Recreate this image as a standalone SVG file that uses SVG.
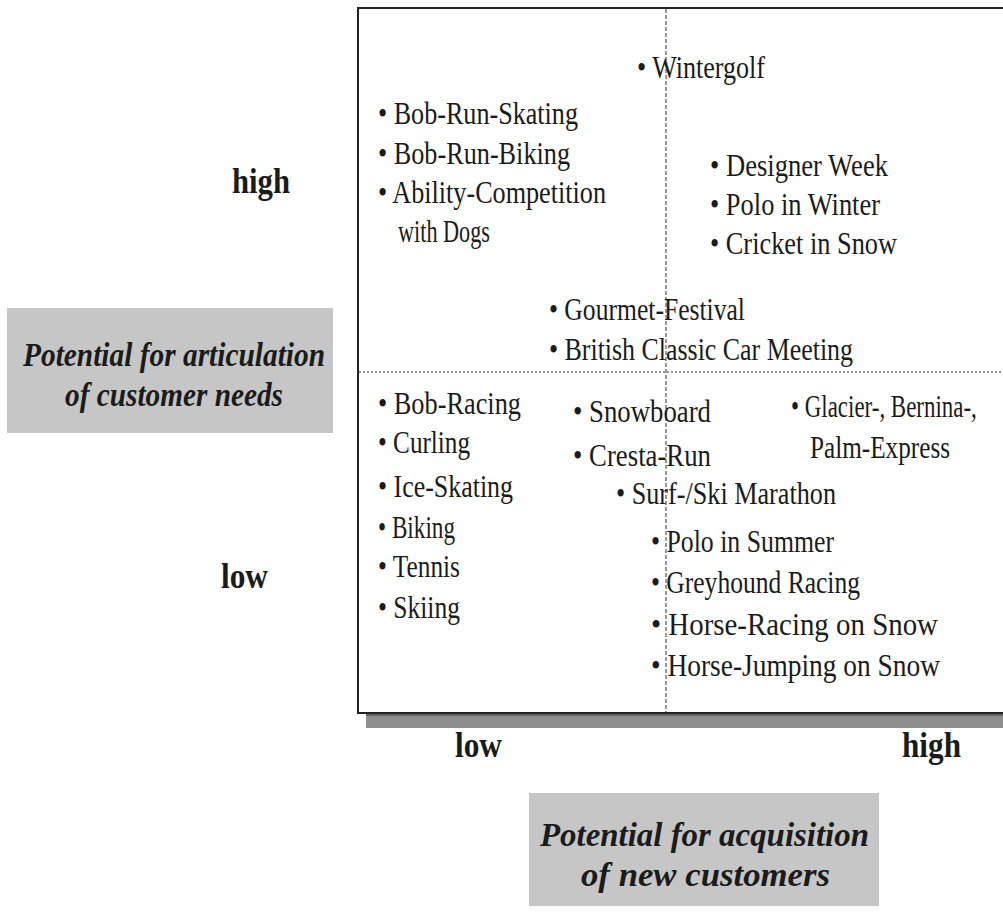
<svg xmlns="http://www.w3.org/2000/svg" width="1003" height="918" viewBox="0 0 1003 918">
<style>
.t{font-family:"Liberation Serif","Times New Roman",serif;font-size:31px;fill:#1b1b1b}
.ax{font-family:"Liberation Serif","Times New Roman",serif;font-size:35px;font-weight:bold;fill:#1b1b1b}
.ti{font-family:"Liberation Serif","Times New Roman",serif;font-size:33px;font-weight:bold;font-style:italic;fill:#1b1b1b}
.gbox{fill:#c6c6c6}
.dash{stroke:#333;stroke-width:1;stroke-dasharray:4 2;fill:none}
</style>
<rect width="1003" height="918" fill="#ffffff"/>
<g id="matrix">
<rect x="366" y="714" width="640" height="14" fill="#8e8e8e"/>
<line x1="366" y1="715" x2="1003" y2="715" stroke="#666" stroke-width="2"/>
<path d="M1003,8 H358 V713 H1003" fill="none" stroke="#222" stroke-width="2"/>
</g>
<g id="connectors">
<line class="dash" x1="666" y1="9" x2="666" y2="712"/>
<line class="dash" x1="359" y1="372" x2="1003" y2="372" style="stroke-dasharray:2 2"/>
</g>
<g id="q-high-high">
<text class="t" x="637" y="78" textLength="128" lengthAdjust="spacingAndGlyphs">• Wintergolf</text>
<text class="t" x="710" y="176" textLength="178" lengthAdjust="spacingAndGlyphs">• Designer Week</text>
<text class="t" x="710" y="215" textLength="170" lengthAdjust="spacingAndGlyphs">• Polo in Winter</text>
<text class="t" x="710" y="254" textLength="187" lengthAdjust="spacingAndGlyphs">• Cricket in Snow</text>
</g>
<g id="q-low-high">
<text class="t" x="378" y="124" textLength="200" lengthAdjust="spacingAndGlyphs">• Bob-Run-Skating</text>
<text class="t" x="378" y="164" textLength="192" lengthAdjust="spacingAndGlyphs">• Bob-Run-Biking</text>
<text class="t" x="378" y="203" textLength="228" lengthAdjust="spacingAndGlyphs">• Ability-Competition</text>
<text class="t" x="398" y="242" textLength="92" lengthAdjust="spacingAndGlyphs">with Dogs</text>
</g>
<g id="q-center">
<text class="t" x="549" y="320" textLength="196" lengthAdjust="spacingAndGlyphs">• Gourmet-Festival</text>
<text class="t" x="549" y="360" textLength="304" lengthAdjust="spacingAndGlyphs">• British Classic Car Meeting</text>
</g>
<g id="q-low-low">
<text class="t" x="378" y="414" textLength="143" lengthAdjust="spacingAndGlyphs">• Bob-Racing</text>
<text class="t" x="378" y="453" textLength="92" lengthAdjust="spacingAndGlyphs">• Curling</text>
<text class="t" x="378" y="497" textLength="135" lengthAdjust="spacingAndGlyphs">• Ice-Skating</text>
<text class="t" x="378" y="538" textLength="77" lengthAdjust="spacingAndGlyphs">• Biking</text>
<text class="t" x="378" y="577" textLength="82" lengthAdjust="spacingAndGlyphs">• Tennis</text>
<text class="t" x="378" y="618" textLength="82" lengthAdjust="spacingAndGlyphs">• Skiing</text>
</g>
<g id="q-high-low">
<text class="t" x="573" y="422" textLength="138" lengthAdjust="spacingAndGlyphs">• Snowboard</text>
<text class="t" x="573" y="466" textLength="138" lengthAdjust="spacingAndGlyphs">• Cresta-Run</text>
<text class="t" x="0" y="0" transform="translate(791,417) scale(0.74,1)">• Glacier-, Bernina-,</text>
<text class="t" x="810" y="458" textLength="140" lengthAdjust="spacingAndGlyphs">Palm-Express</text>
<text class="t" x="616" y="504" textLength="220" lengthAdjust="spacingAndGlyphs">• Surf-/Ski Marathon</text>
<text class="t" x="651" y="552" textLength="183" lengthAdjust="spacingAndGlyphs">• Polo in Summer</text>
<text class="t" x="651" y="593" textLength="209" lengthAdjust="spacingAndGlyphs">• Greyhound Racing</text>
<text class="t" x="651" y="635" textLength="287" lengthAdjust="spacingAndGlyphs">• Horse-Racing on Snow</text>
<text class="t" x="651" y="676" textLength="289" lengthAdjust="spacingAndGlyphs">• Horse-Jumping on Snow</text>
</g>
<g id="axis-y">
<text class="ax" x="232" y="193" textLength="58" lengthAdjust="spacingAndGlyphs">high</text>
<text class="ax" x="221" y="588" textLength="47" lengthAdjust="spacingAndGlyphs">low</text>
</g>
<g id="axis-x">
<text class="ax" x="455" y="757" textLength="47" lengthAdjust="spacingAndGlyphs">low</text>
<text class="ax" x="902" y="757" textLength="59" lengthAdjust="spacingAndGlyphs">high</text>
</g>
<g id="label-y">
<rect class="gbox" x="7" y="308" width="326" height="125"/>
<text class="ti" x="23" y="366" textLength="302" lengthAdjust="spacingAndGlyphs">Potential for articulation</text>
<text class="ti" x="65" y="406" textLength="218" lengthAdjust="spacingAndGlyphs">of customer needs</text>
</g>
<g id="label-x">
<rect class="gbox" x="529" y="793" width="350" height="113"/>
<text class="ti" x="540" y="846" textLength="329" lengthAdjust="spacingAndGlyphs">Potential for acquisition</text>
<text class="ti" x="581" y="886" textLength="249" lengthAdjust="spacingAndGlyphs">of new customers</text>
</g>
</svg>
